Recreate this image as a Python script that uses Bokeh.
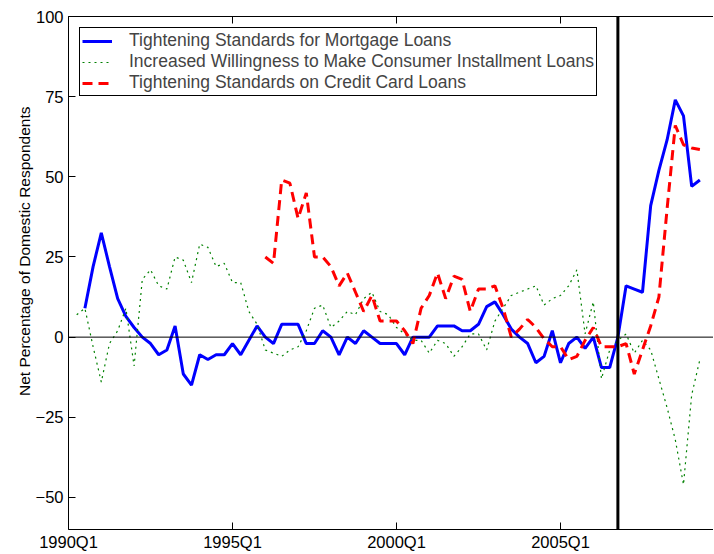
from bokeh.plotting import figure
from bokeh.models import (Range1d, FixedTicker, LinearAxis, Span, Title,
                          Legend, LegendItem)
from bokeh.embed import file_html
from bokeh.resources import INLINE

# ---------------- data (net percentage of domestic respondents) ----------------
mortgage_start = "1990Q3"
mortgage = [9, 22, 32.5, 22, 12, 6.5, 3, 0, -2, -5.5, -4, 3.5, -11.5, -15, -5.5, -7,
            -5.5, -5.5, -2, -5.5, -1, 3.5, 0, -2, 4, 4, 4, -2, -2, 2, 0, -5.5, 0, -2,
            2, 0, -2, -2, -2, -5.5, 0, 0, 0, 3.5, 3.5, 3.5, 2, 2, 4, 9.5, 11, 7, 2.5,
            0, -2, -8, -6, 2, -8, -2, 0, -3.5, 0, -9.5, -9.5, 0, 16, 15, 14, 41, 52,
            61.5, 74, 69, 47, 49]

installment_start = "1990Q2"
installment = [7, 9, -3, -14, -2, 2, 9, -9, 18, 21, 16, 15, 25, 24, 17, 29, 28, 22,
               23, 17, 17, 8, 4, -4, -5, -6, -4, -3, 2, 9, 10, 3, 5, 8, 7, 12, 14, 8,
               7, 3, 1, -1, -1, -5, -1, -2, -6, -3, 1, 1, -4, 5, 9, 13, 14, 15, 16,
               10, 12, 13, 16, 21, 1, 11, -13, -4, -1, 1, -5, -1, -4, -13, -22, -32,
               -46, -18, -7]

credit_start = "1996Q1"
credit = [25, 23, 49, 48, 37, 45, 25, 25, 22, 16, 20, 14, 8, 13, 5, 5, 5, 2, -2, 9,
          13, 20, 12, 19, 18, 8, 15, 15, 16, 9, 0, 2.5, 5.5, 3, -0.5, -3, -3, -7, -6,
          -1, 3, -3, -3, -3, -2, -11.5, -4, 3.5, 12.5, 40, 66, 60, 59, 58.5]

series_labels = ["Tightening Standards for Mortgage Loans",
                 "Increased Willingness to Make Consumer Installment Loans",
                 "Tightening Standards on Credit Card Loans"]
x_tick_labels = ["1990Q1", "1995Q1", "2000Q1", "2005Q1"]
y_ticks = [-50, -25, 0, 25, 50, 75, 100]
marker_quarter = "2006Q4"
y_label = "Net Percentage of Domestic Respondents"


def qidx(s):
    return (int(s[:4]) - 1990) * 4 + int(s[5]) - 1


def xs(start, vals):
    s = qidx(start)
    return [s + i for i in range(len(vals))]


FONT = "Liberation Sans"

p = figure(width=713, height=553, x_range=Range1d(0, 78.66), y_range=Range1d(-60, 100),
           output_backend="svg", toolbar_location=None,
           min_border_left=68, min_border_right=0, min_border_top=16, min_border_bottom=21)
p.outline_line_color = None
p.grid.visible = False
p.background_fill_color = "white"

top_axis = LinearAxis()
p.add_layout(top_axis, "above")
bottom_axis = p.below[0]
left_axis = p.left[0]

xt = [qidx(s) for s in x_tick_labels]
bottom_axis.ticker = FixedTicker(ticks=xt)
bottom_axis.major_label_overrides = {t: s for t, s in zip(xt, x_tick_labels)}
top_axis.ticker = FixedTicker(ticks=xt)
top_axis.major_label_overrides = {t: "" for t in xt}
left_axis.ticker = FixedTicker(ticks=y_ticks)
left_axis.major_label_overrides = {v: (str(v).replace("-", "\u2212")) for v in y_ticks}

for ax in [bottom_axis, top_axis, left_axis]:
    ax.axis_line_color = "black"
    ax.axis_line_width = 1
    ax.major_tick_in = 7
    ax.major_tick_out = 0
    ax.major_tick_line_color = "black"
    ax.minor_tick_line_color = None
    ax.major_label_text_font = FONT
    ax.major_label_text_font_size = "16.5px"
    ax.major_label_text_color = "black"
bottom_axis.major_label_standoff = 3
left_axis.major_label_standoff = 5
top_axis.major_label_text_font_size = "1px"
top_axis.major_label_standoff = 0

r1 = p.line(xs(mortgage_start, mortgage), mortgage, line_color="#0000ff", line_width=3)
r2 = p.line(xs(installment_start, installment), installment, line_color="#008000",
            line_width=1.2, line_dash="2 4")
r3 = p.line(xs(credit_start, credit), credit, line_color="#ff0000", line_width=3,
            line_dash="10 6")

p.add_layout(Span(location=0, dimension="width", line_color="black", line_width=1))
p.add_layout(Span(location=qidx(marker_quarter), dimension="height",
                  line_color="black", line_width=3))

legend = Legend(items=[LegendItem(label=series_labels[0], renderers=[r1]),
                       LegendItem(label=series_labels[1], renderers=[r2]),
                       LegendItem(label=series_labels[2], renderers=[r3])],
                location="top_left", margin=11, padding=2, spacing=0,
                label_height=20, glyph_height=20, glyph_width=30, label_standoff=17,
                border_line_color="black", border_line_width=1, border_line_alpha=1,
                label_text_font=FONT, label_text_font_size="17.5px",
                background_fill_color="white", background_fill_alpha=1)
p.add_layout(legend)

ytitle = Title(text=y_label, align="right", offset=90, standoff=0,
               text_font=FONT, text_font_size="15.5px", text_font_style="normal",
               text_color="black")
p.add_layout(ytitle, "left")

open("out.html", "w").write(file_html(p, INLINE))
